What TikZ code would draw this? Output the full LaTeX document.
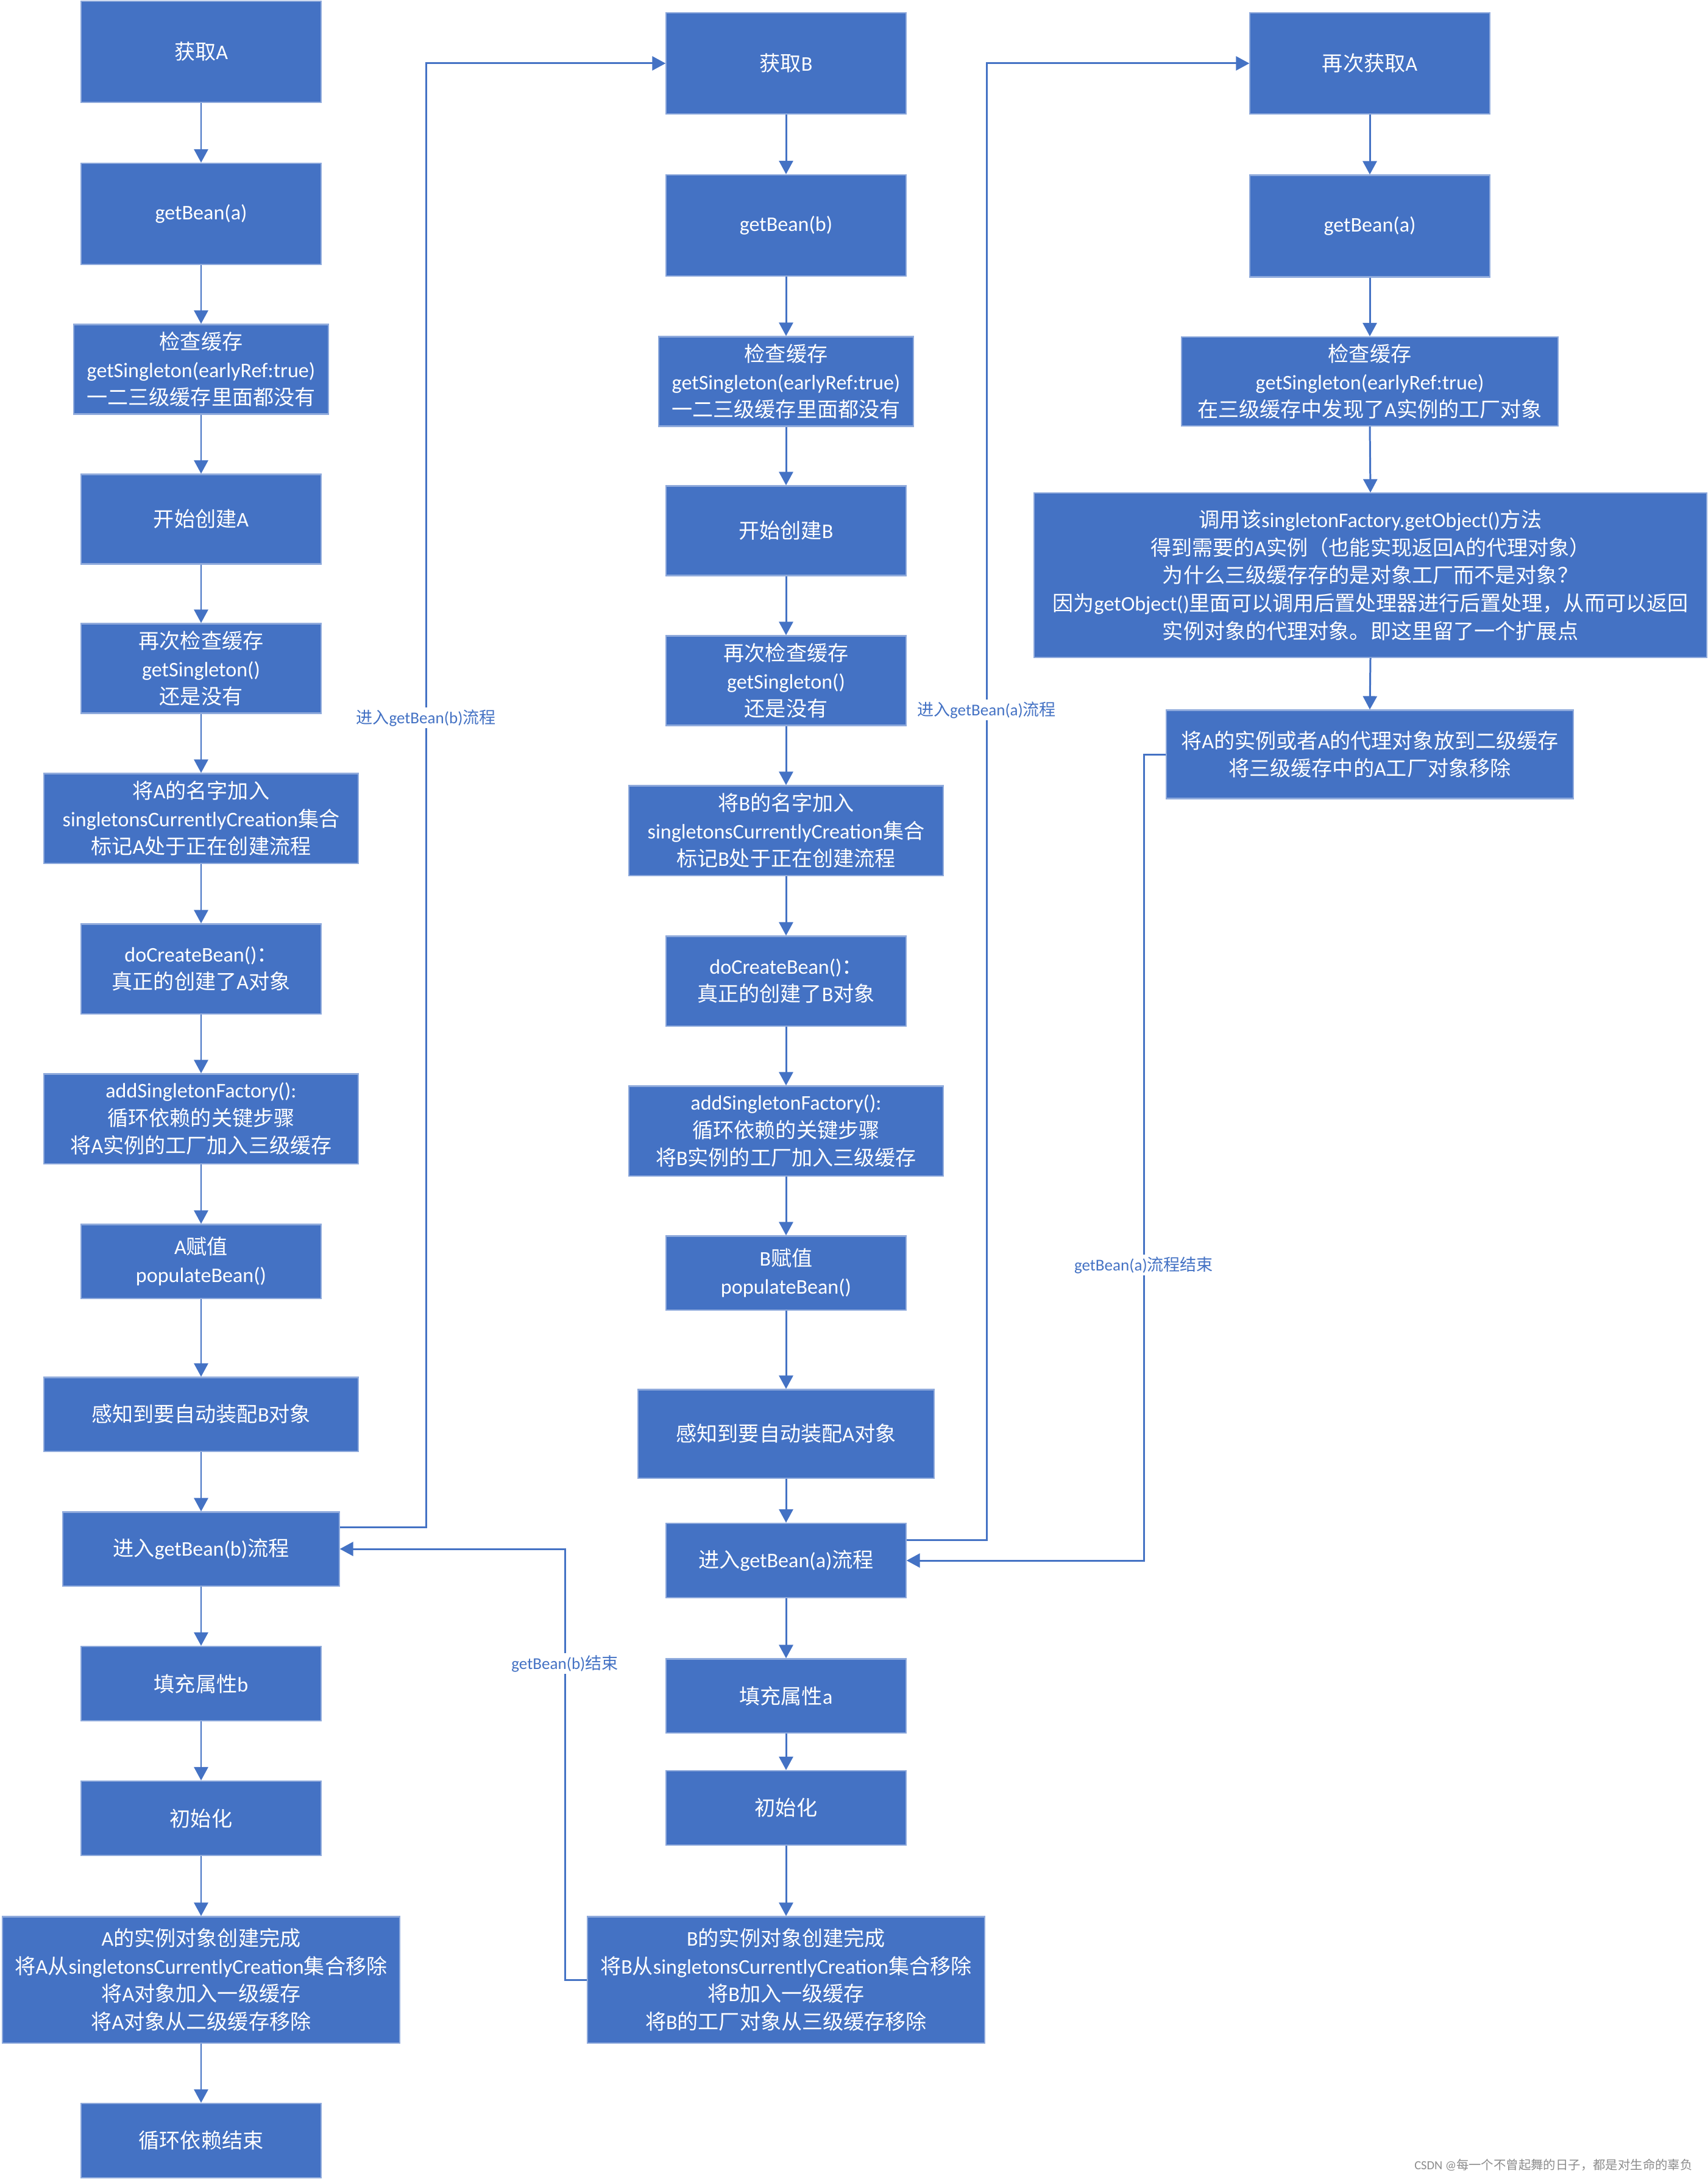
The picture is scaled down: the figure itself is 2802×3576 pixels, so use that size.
\documentclass[tikz,border=0pt]{standalone}
\usepackage{fontspec}
\setmainfont{Carlito}
\newfontfamily\cjkfont{Noto Sans CJK SC}
\usetikzlibrary{arrows.meta}
\definecolor{boxblue}{HTML}{4472C4}
\definecolor{boxedge}{HTML}{8FAADC}

% CJK characters in Noto Sans CJK, the rest in Carlito
\XeTeXinterchartokenstate=1
\newXeTeXintercharclass\cjkclass
\newcount\cjkcode
\def\setcjkrange#1#2{\cjkcode=#1\relax
  \loop\XeTeXcharclass\cjkcode=\cjkclass
  \ifnum\cjkcode<#2\relax\advance\cjkcode by 1\repeat}
\setcjkrange{"3000}{"303F}
\setcjkrange{"4E00}{"9FFF}
\setcjkrange{"FF00}{"FFEF}
\XeTeXinterchartoks 0 \cjkclass={\cjkfont}
\XeTeXinterchartoks 4095 \cjkclass={\cjkfont}
\XeTeXinterchartoks \cjkclass 0={\normalfont}
\XeTeXinterchartoks \cjkclass 4095={\normalfont}

\begin{document}
\begin{tikzpicture}[x=0.01cm, y=-0.01cm,
    block/.style={rectangle, draw=boxedge, line width=0.6pt, fill=boxblue, text=white, align=center, minimum width=3.93cm, minimum height=1.47cm, inner sep=2pt, font=\fontsize{9.7pt}{13pt}\selectfont},
    arrow/.style={-{Triangle[width=0.23cm, length=0.22cm]}, draw=boxblue, line width=0.85pt},
    lbl/.style={fill=white, text=boxblue, inner sep=1pt, font=\fontsize{7.7pt}{9pt}\selectfont}
]
    \useasboundingbox (0,0) rectangle (2802,3576);

    % First getBean(a)
    \node[block, minimum height=1.66cm] (getA) at (330,85) {获取A};
    \node[block, minimum height=1.66cm] (gbA) at (330,351) {getBean(a)};
    \node[block, minimum width=4.17cm] (chkA) at (330,606) {检查缓存\\getSingleton(earlyRef:true)\\一二三级缓存里面都没有};
    \node[block] (startA) at (330,852) {开始创建A};
    \node[block] (rechkA) at (330,1097) {再次检查缓存\\getSingleton()\\还是没有};
    \node[block, minimum width=5.15cm] (nameA) at (330,1343) {将A的名字加入\\singletonsCurrentlyCreation集合\\标记A处于正在创建流程};
    \node[block] (doA) at (330,1590) {doCreateBean()：\\真正的创建了A对象};
    \node[block, minimum width=5.15cm] (addA) at (330,1836) {addSingletonFactory():\\循环依赖的关键步骤\\将A实例的工厂加入三级缓存};
    \node[block, minimum height=1.21cm] (popA) at (330,2070) {A赋值\\populateBean()};
    \node[block, minimum width=5.15cm, minimum height=1.21cm] (senseA) at (330,2321) {感知到要自动装配B对象};
    \node[block, minimum width=4.53cm, minimum height=1.21cm] (enterB) at (330,2542) {进入getBean(b)流程};
    \node[block, minimum height=1.22cm] (fillA) at (330,2763) {填充属性b};
    \node[block, minimum height=1.22cm] (initA) at (330,2984) {初始化};
    \node[block, minimum width=6.51cm, minimum height=2.07cm] (doneA) at (330,3249) {A的实例对象创建完成\\将A从singletonsCurrentlyCreation集合移除\\将A对象加入一级缓存\\将A对象从二级缓存移除};
    \node[block, minimum height=1.22cm] (endA) at (330,3513) {循环依赖结束};

    % getBean(b)
    \node[block, minimum height=1.66cm] (getB) at (1290,104) {获取B};
    \node[block, minimum height=1.66cm] (gbB) at (1290,370) {getBean(b)};
    \node[block, minimum width=4.17cm] (chkB) at (1290,626) {检查缓存\\getSingleton(earlyRef:true)\\一二三级缓存里面都没有};
    \node[block] (startB) at (1290,871) {开始创建B};
    \node[block] (rechkB) at (1290,1117) {再次检查缓存\\getSingleton()\\还是没有};
    \node[block, minimum width=5.15cm] (nameB) at (1290,1363) {将B的名字加入\\singletonsCurrentlyCreation集合\\标记B处于正在创建流程};
    \node[block] (doB) at (1290,1610) {doCreateBean()：\\真正的创建了B对象};
    \node[block, minimum width=5.15cm] (addB) at (1290,1856) {addSingletonFactory():\\循环依赖的关键步骤\\将B实例的工厂加入三级缓存};
    \node[block, minimum height=1.21cm] (popB) at (1290,2089) {B赋值\\populateBean()};
    \node[block, minimum width=4.85cm, minimum height=1.45cm] (senseB) at (1290,2353) {感知到要自动装配A对象};
    \node[block, minimum height=1.22cm] (enterA) at (1290,2561) {进入getBean(a)流程};
    \node[block, minimum height=1.21cm] (fillB) at (1290,2783) {填充属性a};
    \node[block, minimum height=1.22cm] (initB) at (1290,2967) {初始化};
    \node[block, minimum width=6.51cm, minimum height=2.07cm] (doneB) at (1290,3249) {B的实例对象创建完成\\将B从singletonsCurrentlyCreation集合移除\\将B加入一级缓存\\将B的工厂对象从三级缓存移除};

    % Second getBean(a)
    \node[block, minimum height=1.66cm] (regetA) at (2248,104) {再次获取A};
    \node[block, minimum height=1.67cm] (gbA2) at (2248,371) {getBean(a)};
    \node[block, minimum width=6.17cm, minimum height=1.46cm] (chkC) at (2248,626) {检查缓存\\getSingleton(earlyRef:true)\\在三级缓存中发现了A实例的工厂对象};
    \node[block, minimum width=11.04cm, minimum height=2.69cm] (callC) at (2249,944) {调用该singletonFactory.getObject()方法\\得到需要的A实例（也能实现返回A的代理对象）\\为什么三级缓存存的是对象工厂而不是对象？\\因为getObject()里面可以调用后置处理器进行后置处理，从而可以返回\\实例对象的代理对象。即这里留了一个扩展点};
    \node[block, minimum width=6.67cm, minimum height=1.45cm] (putC) at (2248,1238) {将A的实例或者A的代理对象放到二级缓存\\将三级缓存中的A工厂对象移除};

    % Steps in each column
    \draw[arrow] (getA.south) -- (gbA.north);
    \draw[arrow] (gbA.south) -- (chkA.north);
    \draw[arrow] (chkA.south) -- (startA.north);
    \draw[arrow] (startA.south) -- (rechkA.north);
    \draw[arrow] (rechkA.south) -- (nameA.north);
    \draw[arrow] (nameA.south) -- (doA.north);
    \draw[arrow] (doA.south) -- (addA.north);
    \draw[arrow] (addA.south) -- (popA.north);
    \draw[arrow] (popA.south) -- (senseA.north);
    \draw[arrow] (senseA.south) -- (enterB.north);
    \draw[arrow] (enterB.south) -- (fillA.north);
    \draw[arrow] (fillA.south) -- (initA.north);
    \draw[arrow] (initA.south) -- (doneA.north);
    \draw[arrow] (doneA.south) -- (endA.north);

    \draw[arrow] (getB.south) -- (gbB.north);
    \draw[arrow] (gbB.south) -- (chkB.north);
    \draw[arrow] (chkB.south) -- (startB.north);
    \draw[arrow] (startB.south) -- (rechkB.north);
    \draw[arrow] (rechkB.south) -- (nameB.north);
    \draw[arrow] (nameB.south) -- (doB.north);
    \draw[arrow] (doB.south) -- (addB.north);
    \draw[arrow] (addB.south) -- (popB.north);
    \draw[arrow] (popB.south) -- (senseB.north);
    \draw[arrow] (senseB.south) -- (enterA.north);
    \draw[arrow] (enterA.south) -- (fillB.north);
    \draw[arrow] (fillB.south) -- (initB.north);
    \draw[arrow] (initB.south) -- (doneB.north);

    \draw[arrow] (regetA.south) -- (gbA2.north);
    \draw[arrow] (gbA2.south) -- (chkC.north);
    \draw[arrow] (chkC.south) -- (callC.north);
    \draw[arrow] (callC.south) -- (putC.north);

    % Jumps between columns
    \coordinate (upB) at (699,104);
    \coordinate (backB) at (927,2542);
    \coordinate (upA) at (1619,104);
    \coordinate (backA) at (1877,2561);
    \draw[arrow] ([yshift=0.355cm]enterB.east) -| (upB) -- (getB.west);
    \draw[arrow] (doneB.west) -| (backB) -- (enterB.east);
    \draw[arrow] ([yshift=0.34cm]enterA.east) -| (upA) -- (regetA.west);
    \draw[arrow] (putC.west) -| (backA) -- (enterA.east);

    \node[lbl] (lblB) at (699,1178) {进入getBean(b)流程};
    \node[lbl] (lblBend) at (927,2730) {getBean(b)结束};
    \node[lbl] (lblA) at (1619,1165) {进入getBean(a)流程};
    \node[lbl] (lblAend) at (1877,2076) {getBean(a)流程结束};

    % Watermark
    \node[text=black!45, font=\fontsize{5.8pt}{7pt}\selectfont, anchor=east] (mark) at (2790,3553) {CSDN @每一个不曾起舞的日子，都是对生命的辜负};
\end{tikzpicture}
\end{document}
